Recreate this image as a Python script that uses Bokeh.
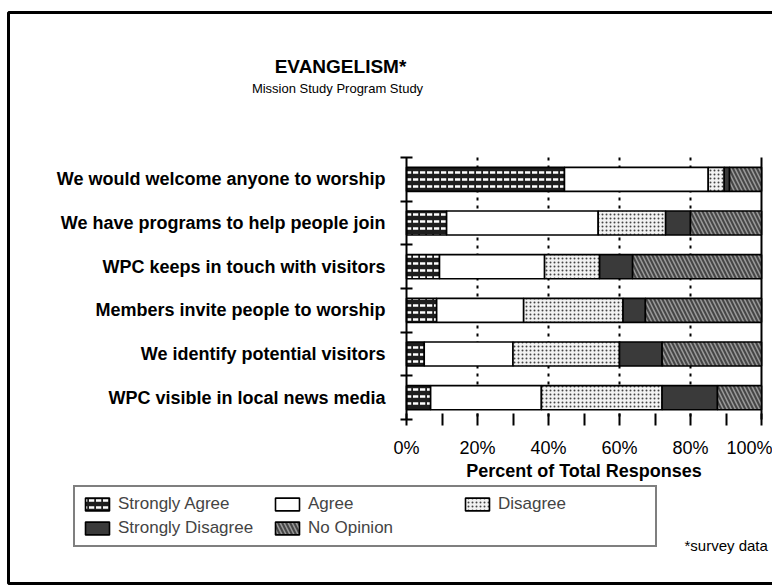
import numpy as np
from bokeh.plotting import figure
from bokeh.models import (Range1d, FixedTicker, PrintfTickFormatter, LinearAxis, Legend,
                          LegendItem, Label, BoxAnnotation, ColumnDataSource)
from bokeh.embed import file_html
from bokeh.resources import INLINE

# ---------------- data ----------------
categories = [
    "We would welcome anyone to worship",
    "We have programs to help people join",
    "WPC keeps in touch with visitors",
    "Members invite people to worship",
    "We identify potential visitors",
    "WPC visible in local news media",
]
series_names = ["Strongly Agree", "Agree", "Disagree", "Strongly Disagree", "No Opinion"]
strongly_agree = [44.5, 11.3, 9.3, 8.5, 5.0, 6.8]
agree = [40.5, 42.7, 29.6, 24.5, 25.0, 31.2]
disagree = [4.5, 19.0, 15.5, 28.0, 30.0, 34.0]
strongly_disagree = [1.5, 7.0, 9.3, 6.3, 12.0, 15.6]
no_opinion = [9.0, 20.0, 36.3, 32.7, 28.0, 12.4]
x_ticks = [0, 20, 40, 60, 80, 100]
x_minor_ticks = [10, 30, 50, 70, 90]
grid_ticks = [20, 40, 60, 80]

FONT = "Liberation Sans"
W, H = 772, 588

values = [strongly_agree, agree, disagree, strongly_disagree, no_opinion]
styles = [
    dict(fill_color="#1e1e1e", hatch_pattern="horizontal_dash", hatch_color="white",
         hatch_scale=7, hatch_weight=2.5),
    dict(fill_color="white"),
    dict(fill_color="#f2f2f2", hatch_pattern="dot", hatch_color="#444444",
         hatch_scale=4, hatch_weight=1.6),
    dict(fill_color="#3a3a3a"),
    dict(fill_color="#464646", hatch_pattern="left_diagonal_line", hatch_color="#9a9a9a",
         hatch_scale=8, hatch_weight=1.5),
]

n = len(categories)
ypos = np.arange(n) + 0.5

# frame covers the whole canvas; plot area 0..100 -> px 406..761, 0..6 -> px 157..419
px_per_x = (761 - 406) / 100.0
px_per_y = (419 - 157) / float(n)
x_range = Range1d(-406 / px_per_x, (W - 406) / px_per_x)
y_range = Range1d((H - 157) / px_per_y, -157 / px_per_y)

p = figure(width=W, height=H, x_range=x_range, y_range=y_range,
           output_backend="svg", toolbar_location=None,
           x_axis_location=None, y_axis_location=None,
           min_border=0, min_border_left=0, min_border_right=0,
           min_border_top=0, min_border_bottom=0)
p.outline_line_color = None
p.background_fill_color = "white"
p.border_fill_color = "white"
p.grid.grid_line_color = None

# dashed vertical grid lines (behind bars)
p.segment(x0=grid_ticks, x1=grid_ticks, y0=[0] * len(grid_ticks), y1=[n] * len(grid_ticks),
          line_color="black", line_width=2, line_dash="3 5")
# right edge line at 100%
p.segment(x0=[100], x1=[100], y0=[0], y1=[n], line_color="black", line_width=2)

# bars
left = np.zeros(n)
renderers = []
for name, vals, st in zip(series_names, values, styles):
    vals = np.array(vals, dtype=float)
    src = ColumnDataSource(dict(y=ypos, left=left, right=left + vals))
    r = p.hbar(y="y", left="left", right="right", height=0.55, source=src,
               line_color="black", line_width=1.6, **st)
    renderers.append((name, r))
    left = left + vals

# x axis
xa = LinearAxis(fixed_location=n, bounds=(0, 100))
xa.ticker = FixedTicker(ticks=x_ticks, minor_ticks=x_minor_ticks)
xa.formatter = PrintfTickFormatter(format="%d%%")
xa.axis_line_color = None
xa.major_tick_line_color = "black"
xa.major_tick_line_width = 2
xa.major_tick_in = 6
xa.major_tick_out = 6
xa.minor_tick_line_color = "black"
xa.minor_tick_line_width = 2
xa.minor_tick_in = 6
xa.minor_tick_out = 6
xa.major_label_standoff = 12
xa.major_label_text_font = FONT
xa.major_label_text_font_size = "18px"
xa.major_label_text_color = "black"
xa.axis_label = "Percent of Total Responses"
xa.axis_label_text_font = FONT
xa.axis_label_text_font_size = "18px"
xa.axis_label_text_font_style = "bold"
xa.axis_label_text_color = "black"
xa.axis_label_standoff = 0
p.add_layout(xa, "below")

# y axis
ya = LinearAxis(fixed_location=0, bounds=(0, n))
ya.ticker = FixedTicker(ticks=list(ypos), minor_ticks=list(range(n + 1)))
ya.major_label_overrides = {float(y): c for y, c in zip(ypos, categories)}
ya.axis_line_color = "black"
ya.axis_line_width = 2
ya.major_tick_line_color = None
ya.minor_tick_line_color = "black"
ya.minor_tick_line_width = 2
ya.minor_tick_in = 6
ya.minor_tick_out = 6
ya.major_label_standoff = 15
ya.major_label_text_font = FONT
ya.major_label_text_font_size = "18px"
ya.major_label_text_font_style = "bold"
ya.major_label_text_color = "black"
p.add_layout(ya, "left")

# legend
legend = Legend(items=[LegendItem(label=nm, renderers=[r]) for nm, r in renderers],
                ncols=3, orientation="horizontal", location=(73, H - 547),
                label_text_font=FONT, label_text_font_size="17px",
                label_width=150, label_height=20, label_standoff=6,
                glyph_width=30, glyph_height=16, spacing=4, padding=7,
                border_line_color="black", border_line_width=2,
                background_fill_color="white", background_fill_alpha=1.0,
                margin=0)
p.add_layout(legend)

# titles and notes (screen units, measured from the canvas bottom-left)
p.add_layout(Label(x=340, y=H - 66, x_units="screen", y_units="screen", text="EVANGELISM*",
                   text_align="center", text_baseline="middle", text_font=FONT,
                   text_font_size="19px", text_font_style="bold", text_color="black"))
p.add_layout(Label(x=337, y=H - 88, x_units="screen", y_units="screen",
                   text="Mission Study Program Study", text_align="center",
                   text_baseline="middle", text_font=FONT, text_font_size="13px",
                   text_color="black"))
p.add_layout(Label(x=684, y=H - 545, x_units="screen", y_units="screen",
                   text="*survey data", text_align="left", text_baseline="middle",
                   text_font=FONT, text_font_size="15px", text_color="black"))

# outer frame of the page
p.add_layout(BoxAnnotation(left=8, right=W + 20, top=H - 12, bottom=H - 583,
                           left_units="screen", right_units="screen",
                           top_units="screen", bottom_units="screen",
                           fill_alpha=0, line_color="black", line_width=3,
                           line_alpha=1))

open("out.html", "w").write(file_html(p, INLINE))
